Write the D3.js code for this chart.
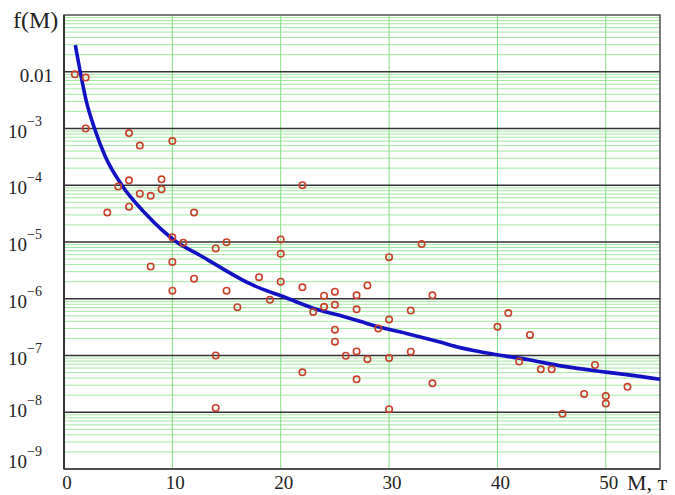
<!DOCTYPE html>
<html>
<head>
<meta charset="utf-8">
<script src="https://cdn.jsdelivr.net/npm/d3@7"></script>
<style>
  html, body { margin: 0; padding: 0; background: #fff; }
  svg { display: block; }
  text { font-family: "Liberation Serif", "Times New Roman", serif; fill: #222; }
</style>
</head>
<body>
<svg id="chart" width="675" height="495"></svg>
<script>
// ---- data ----
const pointMass = [1,2,2,6,7,10,5,6,7,8,9,9,4,6,12,10,11,8,10,12,10,22,14,15,20,20,18,20,15,16,19,22,23,24,24,25,25,25,25,27,27,26,27,14,22,27,14,33,30,28,34,32,30,29,28,30,32,34,30,40,41,43,42,44,45,49,48,50,50,52,46];
const pointF = [9.0e-3,7.9e-3,1.0e-3,8.3e-4,5.0e-4,6.0e-4,9.5e-5,1.22e-4,7.1e-5,6.5e-5,1.27e-4,8.5e-5,3.3e-5,4.2e-5,3.3e-5,1.21e-5,9.7e-6,3.7e-6,4.45e-6,2.26e-6,1.39e-6,1.0e-4,7.7e-6,9.9e-6,1.11e-5,6.2e-6,2.4e-6,2.0e-6,1.39e-6,7.1e-7,9.6e-7,1.59e-6,5.85e-7,1.13e-6,7.2e-7,1.33e-6,7.8e-7,2.85e-7,1.75e-7,1.15e-6,6.5e-7,9.9e-8,1.18e-7,1.0e-7,5.05e-8,3.8e-8,1.19e-8,9.2e-6,5.4e-6,1.72e-6,1.15e-6,6.2e-7,4.3e-7,3.0e-7,8.6e-8,9.0e-8,1.17e-7,3.24e-8,1.13e-8,3.2e-7,5.6e-7,2.3e-7,7.8e-8,5.7e-8,5.7e-8,6.8e-8,2.1e-8,1.93e-8,1.42e-8,2.8e-8,9.4e-9];

const curveMass = [1.04,1.5,2.03,2.82,3.81,5.34,7.49,10.4,12.5,14.4,17.1,20.6,23.0,25.4,27.3,29.0,31.6,34.6,36.2,38.9,42.9,46.0,50.0,52.1,55.0];
const curveF = [2.95e-2,1.0e-2,3.2e-3,1.0e-3,3.2e-4,1.0e-4,3.2e-5,1.0e-5,5.9e-6,3.6e-6,1.86e-6,1.02e-6,6.8e-7,5.1e-7,4.0e-7,3.2e-7,2.45e-7,1.74e-7,1.43e-7,1.12e-7,8.4e-8,6.5e-8,5.1e-8,4.55e-8,3.8e-8];

const xTickValues = [0,10,20,30,40,50];
const xTickLabels = ["0","10","20","30","40","50"];
const yTickValues = [1e-9,1e-8,1e-7,1e-6,1e-5,1e-4,1e-3,1e-2];
const yTickLabels = ["10^-9","10^-8","10^-7","10^-6","10^-5","10^-4","10^-3","0.01"];
const yAxisTitle = "f(M)";
const xAxisTitle = "M, т";

// ---- layout ----
const svg = d3.select("#chart");
const x = d3.scaleLinear().domain([0, 55]).range([64, 660]);
const y = d3.scaleLog().domain([1e-9, 0.1]).range([469, 15]);

// minor horizontal grid (green)
const minor = y.ticks().filter(v => {
  const m = v / Math.pow(10, Math.floor(Math.log10(v) + 1e-9));
  return Math.round(m) !== 1;
});
svg.append("g").selectAll("line").data(minor).join("line")
  .attr("x1", x(0)).attr("x2", x(55))
  .attr("y1", d => y(d)).attr("y2", d => y(d))
  .attr("stroke", "#a2e8a2").attr("stroke-width", 1);

// vertical grid (green)
svg.append("g").selectAll("line").data(xTickValues.filter(d => d > 0)).join("line")
  .attr("x1", d => x(d)).attr("x2", d => x(d))
  .attr("y1", y(0.1)).attr("y2", y(1e-9))
  .attr("stroke", "#7fe07f").attr("stroke-width", 1);

// major horizontal grid (dark)
svg.append("g").selectAll("line").data(yTickValues).join("line")
  .attr("x1", x(0)).attr("x2", x(55))
  .attr("y1", d => y(d)).attr("y2", d => y(d))
  .attr("stroke", "#333").attr("stroke-width", 1.6);

// frame
svg.append("rect")
  .attr("x", x(0)).attr("y", y(0.1))
  .attr("width", x(55) - x(0)).attr("height", y(1e-9) - y(0.1))
  .attr("fill", "none").attr("stroke", "#444").attr("stroke-width", 1.4);
svg.append("line").attr("x1", x(0)).attr("x2", x(0)).attr("y1", y(0.1)).attr("y2", y(1e-9))
  .attr("stroke", "#333").attr("stroke-width", 2);

// curve
const line = d3.line().x((d, i) => x(curveMass[i])).y((d, i) => y(curveF[i])).curve(d3.curveMonotoneX);
svg.append("path").datum(curveF).attr("d", line)
  .attr("fill", "none").attr("stroke", "#1212c4").attr("stroke-width", 3.6)
  .attr("stroke-linejoin", "round");

// points
svg.append("g").selectAll("circle").data(pointF).join("circle")
  .attr("cx", (d, i) => x(pointMass[i])).attr("cy", d => y(d))
  .attr("r", 3.2).attr("fill", "none")
  .attr("stroke", "#c8402a").attr("stroke-width", 1.6);

// x tick labels
svg.append("g").selectAll("text").data(xTickValues).join("text")
  .attr("x", d => x(d) + 3).attr("y", 489)
  .attr("text-anchor", "middle").attr("font-size", 19)
  .text((d, i) => xTickLabels[i]);

// y tick labels
const yl = svg.append("g");
yTickValues.forEach((v, i) => {
  const lab = yTickLabels[i];
  let yy = y(v) + 9;
  if (i === 0) yy = y(v) - 1;
  if (i === 1) yy = y(v) + 5;
  if (lab.indexOf("^") >= 0) {
    const [base, exp] = lab.split("^");
    yl.append("text").attr("x", 27).attr("y", yy).attr("text-anchor", "end")
      .attr("font-size", 19).text(base);
    yl.append("text").attr("x", 27).attr("y", yy - 12).attr("text-anchor", "start")
      .attr("font-size", 14).text(exp.replace("-", "\u2212"));
  } else {
    yl.append("text").attr("x", 53).attr("y", y(v) + 10).attr("text-anchor", "end")
      .attr("font-size", 19).text(lab);
  }
});

// axis titles
svg.append("text").attr("x", 13).attr("y", 28).attr("font-size", 24).text(yAxisTitle);
svg.append("text").attr("x", 627).attr("y", 490).attr("font-size", 22).text(xAxisTitle);
</script>
</body>
</html>
